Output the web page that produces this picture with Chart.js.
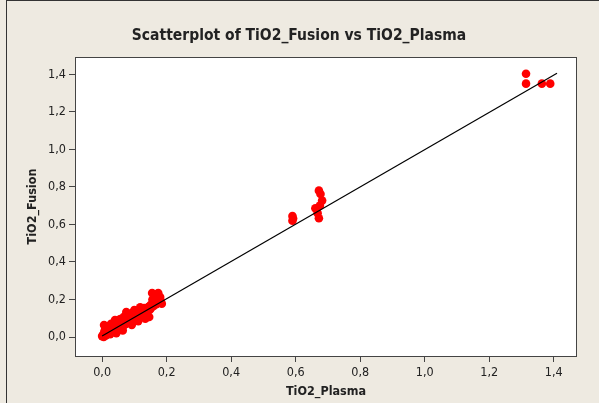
<!DOCTYPE html>
<html>
<head>
<meta charset="utf-8">
<script src="https://cdn.jsdelivr.net/npm/chart.js@4"></script>
<style>
  html, body { margin: 0; padding: 0; background: #EEEAE1; }
  #wrap { position: relative; height: 403px; box-sizing: border-box;
          border-top: 1px solid #333; border-left: 1px solid #333; margin-left: 6px; width: 593px; }
  canvas { display: block; }
</style>
</head>
<body>
<div id="wrap"><canvas id="c" width="592" height="402"></canvas></div>
<script>
// valeurs
const plasma = [
  0.000, 0.003, 0.005, 0.006, 0.008, 0.006, 0.010, 0.012, 0.015, 0.016,
  0.018, 0.020, 0.022, 0.025, 0.027, 0.030, 0.032, 0.035, 0.038, 0.040,
  0.042, 0.045, 0.047, 0.050, 0.052, 0.055, 0.058, 0.060, 0.062, 0.065,
  0.068, 0.070, 0.072, 0.075, 0.078, 0.080, 0.082, 0.085, 0.087, 0.090,
  0.092, 0.095, 0.098, 0.100, 0.102, 0.105, 0.108, 0.110, 0.113, 0.115,
  0.118, 0.120, 0.122, 0.125, 0.128, 0.130, 0.132, 0.135, 0.138, 0.140,
  0.143, 0.146, 0.148, 0.150, 0.152, 0.155, 0.156, 0.158, 0.160, 0.162,
  0.165, 0.168, 0.170, 0.172, 0.174, 0.176, 0.178, 0.180, 0.182, 0.185,
  0.028, 0.055, 0.064, 0.092, 0.112, 0.118, 0.134, 0.020, 0.044,
  0.590, 0.590, 0.592, 0.672, 0.677, 0.682, 0.661, 0.672, 0.668, 0.675,
  1.314, 1.314, 1.363, 1.389
];
const fusion = [
  0.005, 0.012, 0.000, 0.020, 0.035, 0.064, 0.045, 0.008, 0.025, 0.016,
  0.050, 0.030, 0.060, 0.015, 0.040, 0.055, 0.070, 0.028, 0.045, 0.090,
  0.062, 0.035, 0.043, 0.075, 0.055, 0.085, 0.048, 0.065, 0.100, 0.058,
  0.080, 0.110, 0.068, 0.133, 0.090, 0.075, 0.105, 0.120, 0.080, 0.095,
  0.128, 0.110, 0.088, 0.144, 0.115, 0.100, 0.130, 0.120, 0.140, 0.108,
  0.125, 0.150, 0.118, 0.135, 0.112, 0.155, 0.140, 0.125, 0.150, 0.135,
  0.160, 0.107, 0.145, 0.170, 0.155, 0.235, 0.200, 0.180, 0.165, 0.215,
  0.190, 0.175, 0.225, 0.200, 0.235, 0.185, 0.205, 0.213, 0.190, 0.178,
  0.070, 0.095, 0.035, 0.065, 0.085, 0.158, 0.098, 0.052, 0.020,
  0.645, 0.620, 0.632, 0.780, 0.762, 0.727, 0.686, 0.633, 0.660, 0.700,
  1.403, 1.350, 1.350, 1.350
];
const fitX = [0.0, 1.41];
const fitY = [0.005, 1.405];
const tickVals = [0, 0.2, 0.4, 0.6, 0.8, 1.0, 1.2, 1.4];

const fontUI = 'Tahoma, "DejaVu Sans Condensed", "DejaVu Sans", sans-serif';
const ink = '#222';
const fmt = v => v.toFixed(1).replace('.', ',');

// fond blanc + cadre de la zone de tracé
const frame = {
  id: 'frame',
  beforeDatasetsDraw(chart) {
    const { ctx, chartArea: a } = chart;
    ctx.save();
    ctx.fillStyle = '#fff';
    ctx.fillRect(a.left, a.top, a.right - a.left, a.bottom - a.top);
    ctx.restore();
  },
  afterDraw(chart) {
    const { ctx, chartArea: a } = chart;
    ctx.save();
    ctx.strokeStyle = '#444';
    ctx.lineWidth = 1;
    ctx.strokeRect(a.left + 0.5, a.top + 0.5, a.right - a.left - 1, a.bottom - a.top);
    ctx.restore();
  }
};

const axisCommon = (title) => ({
  type: 'linear',
  afterBuildTicks: s => { s.ticks = tickVals.map(v => ({ value: v })); },
  grid: { drawOnChartArea: false, drawTicks: true, tickLength: 6, color: '#444' },
  border: { display: false },
  ticks: { color: ink, font: { family: fontUI, size: 12.5 }, padding: 3, callback: v => fmt(v) },
  title: { display: true, text: title, color: ink, font: { family: fontUI, size: 12.5, weight: 'bold' } }
});

new Chart(document.getElementById('c'), {
  type: 'scatter',
  data: {
    datasets: [
      {
        type: 'line',
        data: fitX.map((x, i) => ({ x, y: fitY[i] })),
        borderColor: '#000', borderWidth: 1.2, pointRadius: 0, fill: false, order: 0
      },
      {
        data: plasma.map((x, i) => ({ x, y: fusion[i] })),
        backgroundColor: '#FF0000', borderWidth: 0, pointRadius: 4.3, order: 1
      }
    ]
  },
  options: {
    responsive: false,
    animation: false,
    layout: { padding: { left: 14, right: 22, top: 0, bottom: 0 } },
    plugins: {
      legend: { display: false },
      tooltip: { enabled: false },
      title: {
        display: true, text: 'Scatterplot of TiO2_Fusion vs TiO2_Plasma', color: ink,
        font: { family: fontUI, size: 15.5, weight: 'bold' }, padding: { top: 26, bottom: 11.4 }
      }
    },
    scales: {
      x: Object.assign(axisCommon('TiO2_Plasma'), {
        min: -0.084, max: 1.472,
        afterFit: s => { s.height = 47; }
      }),
      y: Object.assign(axisCommon('TiO2_Fusion'), {
        min: -0.101, max: 1.492,
        afterFit: s => { s.width = 54; }
      })
    }
  },
  plugins: [frame]
});
</script>
</body>
</html>
